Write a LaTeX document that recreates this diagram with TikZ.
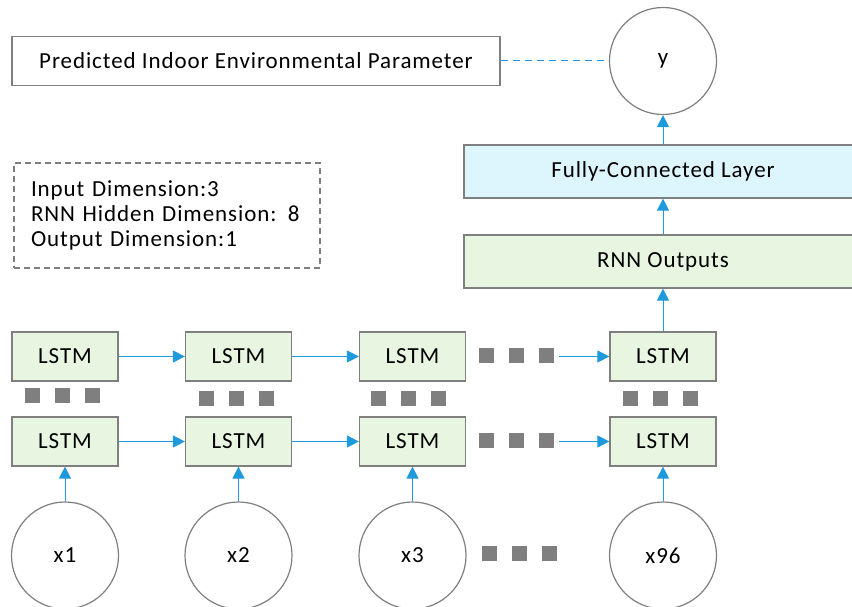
\documentclass[tikz,border=0pt]{standalone}
\usepackage{fontspec}
\setmainfont{Carlito}[LetterSpace=4]
\usetikzlibrary{arrows.meta}

\definecolor{boxgray}{HTML}{7F7F7F}
\definecolor{lstmgreen}{HTML}{E8F5E0}
\definecolor{fcblue}{HTML}{DDF5FD}
\definecolor{linkblue}{HTML}{1E9ADC}

% three small squares round (x,y)
\newcommand{\sqrow}[2]{%
  \foreach \dx in {-30,0,30}
    \fill[boxgray] ({#1+\dx-7.5},{#2-7.5}) rectangle ({#1+\dx+7.5},{#2+7.5});
}

\begin{document}
\begin{tikzpicture}[x=1pt,y=-1pt,
    font=\fontsize{23}{25}\selectfont,
    every node/.style={draw=boxgray,line width=1.2pt},
    lstm/.style={fill=lstmgreen,minimum width=106pt,minimum height=49pt},
    wide/.style={minimum width=398pt,minimum height=53pt},
    unit/.style={circle,minimum size=107pt,inner sep=0pt},
    link/.style={draw=linkblue,line width=1pt,-{Triangle[length=12pt,width=12pt]}}]
                \useasboundingbox (0,0) rectangle (852,607);
                % output side
                \node (pred) at (256,61) [minimum width=488pt,minimum height=49pt] {Predicted Indoor Environmental Parameter};
                \node[unit] (y) at (663,61) {y};
                \draw[linkblue,line width=1pt,dash pattern=on 7pt off 5pt] (pred) -- (y);
                \node[wide,fill=fcblue] (fc) at (663,171.5) {Fully-Connected Layer};
                \node[wide,fill=lstmgreen] (out) at (663,261.5) {RNN Outputs};
                \draw[link] (fc) -- (y);
                \draw[link] (out) -- (fc);
                % settings
                \node[dashed,dash pattern=on 6pt off 4pt,align=left,minimum width=306pt,minimum height=105pt,
                      text width=272pt] (info) at (167,215.5)
                     {Input Dimension:3\\RNN Hidden Dimension: 8\\Output Dimension:1};
                % LSTM layers
                \node[lstm] (t1) at (65,356.5) {LSTM};
                \node[lstm] (t2) at (238.5,356.5) {LSTM};
                \node[lstm] (t3) at (412.5,356.5) {LSTM};
                \node[lstm] (t4) at (663,356.5) {LSTM};
                \node[lstm] (b1) at (65,441.5) {LSTM};
                \node[lstm] (b2) at (238.5,441.5) {LSTM};
                \node[lstm] (b3) at (412.5,441.5) {LSTM};
                \node[lstm] (b4) at (663,441.5) {LSTM};
                \coordinate (dt) at (559,356.5);
                \coordinate (db) at (559,441.5);
                \draw[link] (t1) -- (t2);
                \draw[link] (t2) -- (t3);
                \draw[link] (dt) -- (t4);
                \draw[link] (b1) -- (b2);
                \draw[link] (b2) -- (b3);
                \draw[link] (db) -- (b4);
                \draw[link] (t4) -- (out);
                % inputs
                \node[unit] (x1) at (65,555.5) {x1};
                \node[unit] (x2) at (238.5,555.5) {x2};
                \node[unit] (x3) at (412.5,555.5) {x3};
                \node[unit] (x96) at (663,555.5) {x96};
                \draw[link] (x1) -- (b1);
                \draw[link] (x2) -- (b2);
                \draw[link] (x3) -- (b3);
                \draw[link] (x96) -- (b4);
                % skipped steps and layers
                \sqrow{516.5}{355.5}
                \sqrow{516.5}{440.5}
                \sqrow{62.5}{395.5}
                \sqrow{236.5}{398.5}
                \sqrow{408.5}{398.5}
                \sqrow{660}{398.5}
                \sqrow{519.5}{553}
            \end{tikzpicture}
\end{document}
